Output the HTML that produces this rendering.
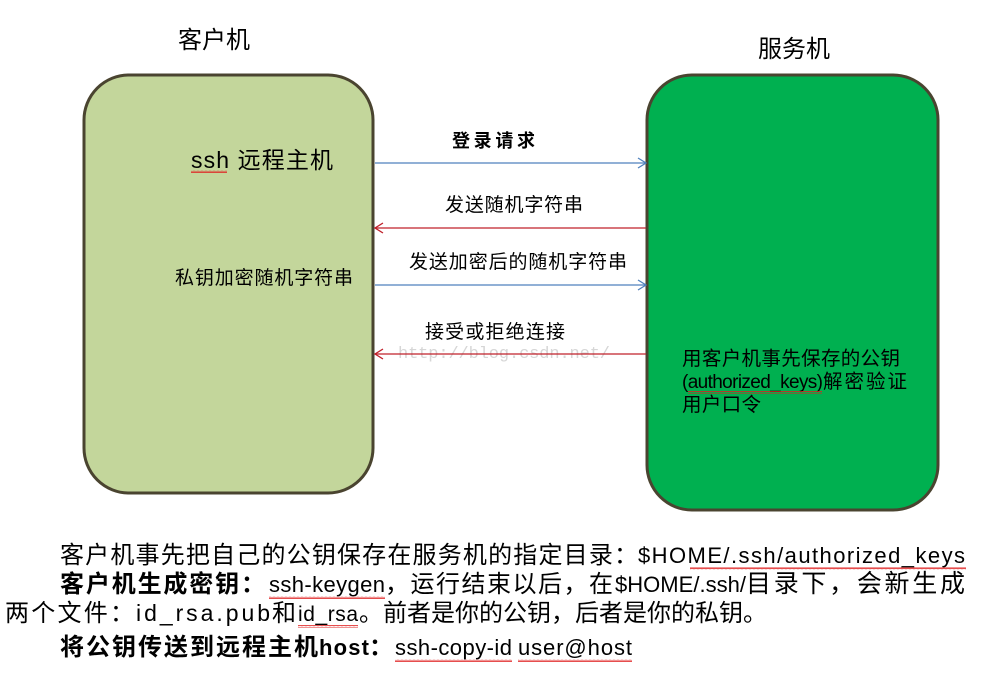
<!DOCTYPE html>
<html><head><meta charset="utf-8"><style>
html,body{margin:0;padding:0;background:#fff;}
svg{display:block;}
text{font-family:"Liberation Sans","Noto Sans CJK SC",sans-serif;fill:#000;}
.c{font-size:24px;}
.l{font-size:22px;}
.b{font-weight:bold;}
</style></head><body>
<svg width="986" height="684" viewBox="0 0 986 684" xmlns="http://www.w3.org/2000/svg">
<defs>
<pattern id="wv" width="4" height="3" patternUnits="userSpaceOnUse"><path d="M0 2 L1 0.5 L2 2 L3 0.5 L4 2" stroke="#e02020" stroke-width="0.8" fill="none"/></pattern>
</defs>
<text x="178" y="48" font-size="24">客户机</text>
<text x="758" y="57" font-size="24">服务机</text>
<rect x="84" y="75" width="289" height="418" rx="45" ry="45" fill="#c3d69b" stroke="#4a4430" stroke-width="3"/>
<rect x="647" y="75" width="291" height="435" rx="45" ry="45" fill="#00b050" stroke="#4a4430" stroke-width="3"/>
<text x="191" y="168" font-size="23" textLength="142">ssh 远程主机</text>
<rect x="191" y="170" width="36" height="3" fill="url(#wv)"/>
<text x="175" y="284" font-size="19" textLength="178">私钥加密随机字符串</text>
<text x="452" y="147" font-size="18" font-weight="bold" textLength="83">登录请求</text>
<text x="445" y="211" font-size="19" textLength="138">发送随机字符串</text>
<text x="409" y="268" font-size="19" textLength="218">发送加密后的随机字符串</text>
<text x="425" y="338" font-size="19" textLength="140">接受或拒绝连接</text>
<text x="398" y="358" style="font-family:'Liberation Mono',monospace;font-size:17px;fill:#d6d6d6" textLength="212">http://blog.csdn.net/</text>
<g stroke-width="1.3" fill="none">
<line x1="375" y1="163" x2="646" y2="163" stroke="#4f81bd"/>
<polyline points="638,158 646,163 638,168" stroke="#4f81bd"/>
<line x1="375" y1="228" x2="646" y2="228" stroke="#c0202a"/>
<polyline points="383,223 375,228 383,233" stroke="#c0202a"/>
<line x1="375" y1="285" x2="646" y2="285" stroke="#4f81bd"/>
<polyline points="638,280 646,285 638,290" stroke="#4f81bd"/>
<line x1="375" y1="354" x2="646" y2="354" stroke="#c0202a"/>
<polyline points="383,349 375,354 383,359" stroke="#c0202a"/>
</g>
<text x="682" y="365" font-size="19.5" textLength="218">用客户机事先保存的公钥</text>
<text x="682" y="388" font-size="19" textLength="141">(authorized_keys)</text>
<text x="823" y="388" font-size="19.5" textLength="84">解密验证</text>
<rect x="688" y="391" width="134" height="3" fill="url(#wv)"/>
<text x="682" y="411" font-size="19.5" textLength="79">用户口令</text>

<text class="c" x="60" y="563" textLength="578">客户机事先把自己的公钥保存在服务机的指定目录：</text>
<text class="l" x="638" y="563" textLength="327">$HOME/.ssh/authorized_keys</text>
<rect x="690" y="567" width="276" height="3" fill="url(#wv)"/>

<text class="c b" x="60" y="592" textLength="205">客户机生成密钥：</text>
<text class="l" x="269" y="592" textLength="116">ssh-keygen</text>
<text class="c" x="385" y="592" textLength="228">，运行结束以后，在</text>
<text class="l" x="615" y="592" textLength="131">$HOME/.ssh/</text>
<text class="c" style="font-size:25px" x="746" y="592" textLength="219">目录下，会新生成</text>
<rect x="269" y="596" width="116" height="3" fill="url(#wv)"/>

<text class="c" x="5" y="621" textLength="129">两个文件：</text>
<text class="l" style="font-size:23px" x="136" y="621" textLength="134">id_rsa.pub</text>
<text class="c" x="272" y="621" textLength="25">和</text>
<text class="l" style="font-size:21px" x="298" y="621" textLength="60">id_rsa</text>
<text class="c" x="359" y="621" textLength="408">。前者是你的公钥，后者是你的私钥。</text>
<rect x="298" y="625" width="60" height="3" fill="url(#wv)"/>

<text class="c b" x="60" y="655" textLength="258">将公钥传送到远程主机</text>
<text class="l b" x="319" y="655" textLength="50">host</text>
<text class="c b" x="369" y="655" textLength="24">：</text>
<text class="l" x="395" y="655" textLength="117">ssh-copy-id</text>
<text class="l" x="518" y="655" textLength="114">user@host</text>
<rect x="395" y="659" width="117" height="3" fill="url(#wv)"/>
<rect x="518" y="659" width="114" height="3" fill="url(#wv)"/>
</svg>
</body></html>
